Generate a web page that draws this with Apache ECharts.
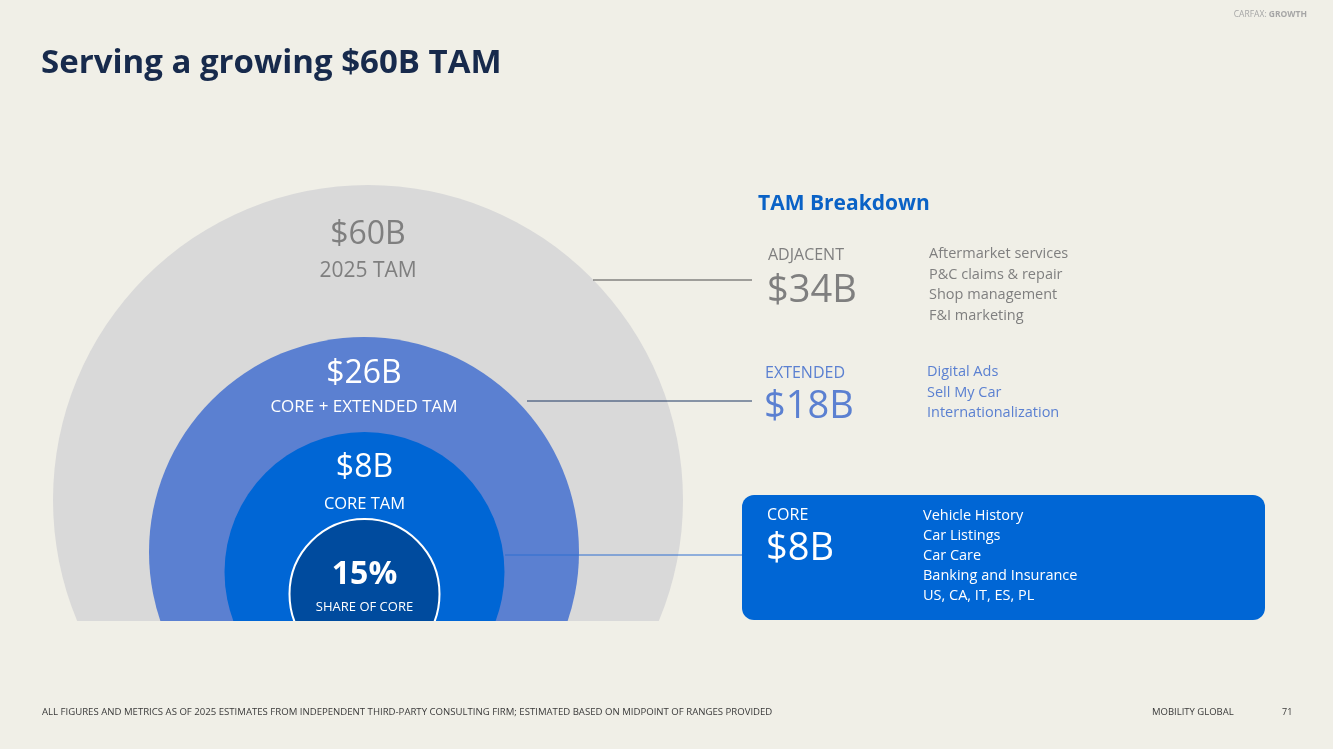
<!DOCTYPE html>
<html>
<head>
<meta charset="utf-8">
<script src="https://cdn.jsdelivr.net/npm/echarts@6/dist/echarts.min.js"></script>
<style>
  html, body { margin: 0; padding: 0; background: #f0efe7; }
  #chart { width: 1333px; height: 749px; }
</style>
</head>
<body>
<div id="chart"></div>
<script>
// TAM rings, $B
var ringValues = [60, 26, 8];
var ringLabels = ['2025 TAM', 'CORE + EXTENDED TAM', 'CORE TAM'];
var shareOfCore = 15; // %
var shareLabel = 'SHARE OF CORE';

// breakdown on the right
var segmentNames = ['ADJACENT', 'EXTENDED', 'CORE'];
var segmentValues = [34, 18, 8];
var segmentItems = [
  ['Aftermarket services', 'P&C claims & repair', 'Shop management', 'F&I marketing'],
  ['Digital Ads', 'Sell My Car', 'Internationalization'],
  ['Vehicle History', 'Car Listings', 'Car Care', 'Banking and Insurance', 'US, CA, IT, ES, PL']
];

// layout (pixel units of the hidden axes)
var FONT = '"Open Sans", sans-serif';
var ringCx = [368, 364, 364.5, 364.5];
var ringCy = [500, 552, 572, 594];
var ringR = [315, 215, 140, 75];
var ringFill = ['#d9d9d9', '#5b80d1', '#0066d5', '#004b9e'];
var ringValueY = [235, 374, 468, 575];
var ringLabelY = [271, 407, 504, 607];
var ringTextColor = ['#7f7f7f', '#ffffff', '#ffffff', '#ffffff'];
var ringLabelSize = [21, 17, 16.5, 13];

var myChart = echarts.init(document.getElementById('chart'));

var ringData = ringValues.map(function (v, i) {
  return { value: [i, v], label: ringLabels[i] };
});
ringData.push({ value: [3, shareOfCore], label: shareLabel });

function renderRing(params, api) {
  var i = params.dataIndex;
  var c = api.coord([ringCx[i], ringCy[i]]);
  var r = api.size([ringR[i], 0])[0];
  var v = api.value(1);
  var txt = i < 3 ? '$' + v + 'B' : v + '%';
  return {
    type: 'group',
    children: [{
      type: 'circle',
      shape: { cx: c[0], cy: c[1], r: r },
      style: {
        fill: ringFill[i],
        stroke: i == 3 ? '#ffffff' : null,
        lineWidth: i == 3 ? 2 : 0
      }
    }, {
      type: 'text',
      style: {
        text: txt, x: c[0], y: api.coord([0, ringValueY[i]])[1],
        fill: ringTextColor[i], font: (i == 3 ? 'bold ' : '') + '32px ' + FONT,
        align: 'center', verticalAlign: 'middle'
      }
    }, {
      type: 'text',
      style: {
        text: ringData[i].label, x: c[0], y: api.coord([0, ringLabelY[i]])[1],
        fill: ringTextColor[i], font: ringLabelSize[i] + 'px ' + FONT,
        align: 'center', verticalAlign: 'middle'
      }
    }]
  };
}

// right side text + connectors
var segColor = ['#7f7f7f', '#5b80d1', '#ffffff'];
var segX = [768, 765, 767];
var segNameY = [255, 373, 515];
var segValueY = [291, 407, 549];
var itemX = [929, 927, 923];
var itemY0 = [254, 372, 516];
var itemStep = [20.5, 20.5, 20];
var lineFrom = [[593, 280], [527, 401], [505, 555]];
var lineTo = [752, 752, 742];
var lineColor = ['#4d4d4d', '#1f3864', '#2f6fd0'];

var graphics = [];
graphics.push({
  type: 'rect', z: 1,
  shape: { x: 742, y: 495, width: 523, height: 125, r: 12 },
  style: { fill: '#0066d5' }
});
for (var s = 0; s < 3; s++) {
  graphics.push({
    type: 'line', z: 5,
    shape: { x1: lineFrom[s][0], y1: lineFrom[s][1], x2: lineTo[s], y2: lineFrom[s][1] },
    style: { stroke: lineColor[s], lineWidth: 1 }
  });
  graphics.push({
    type: 'text', z: 5,
    style: { text: segmentNames[s], x: segX[s], y: segNameY[s], fill: segColor[s],
      font: '16px ' + FONT, verticalAlign: 'middle' }
  });
  graphics.push({
    type: 'text', z: 5,
    style: { text: '$' + segmentValues[s] + 'B', x: segX[s] - 1, y: segValueY[s], fill: segColor[s],
      font: '38px ' + FONT, verticalAlign: 'middle' }
  });
  for (var k = 0; k < segmentItems[s].length; k++) {
    graphics.push({
      type: 'text', z: 5,
      style: { text: segmentItems[s][k], x: itemX[s], y: itemY0[s] + k * itemStep[s],
        fill: segColor[s], font: '14.5px ' + FONT, verticalAlign: 'middle' }
    });
  }
}
graphics.push({
  type: 'text', z: 5,
  style: { text: 'TAM Breakdown', x: 758, y: 204, fill: '#0a62c6',
    font: 'bold 21px ' + FONT, verticalAlign: 'middle' }
});
graphics.push({
  type: 'text', z: 5,
  style: { text: 'Serving a growing $60B TAM', x: 41, y: 64, fill: '#172a4c',
    font: 'bold 33px ' + FONT, verticalAlign: 'middle' }
});
graphics.push({
  type: 'text', z: 5,
  style: {
    text: '{a|CARFAX: }{b|GROWTH}', x: 1307, y: 15, align: 'right', verticalAlign: 'middle',
    rich: {
      a: { fill: '#a6a6a6', font: '8.5px ' + FONT },
      b: { fill: '#a6a6a6', font: 'bold 8.5px ' + FONT }
    }
  }
});
graphics.push({
  type: 'text', z: 5,
  style: { text: 'ALL FIGURES AND METRICS AS OF 2025 ESTIMATES FROM INDEPENDENT THIRD-PARTY CONSULTING FIRM; ESTIMATED BASED ON MIDPOINT OF RANGES PROVIDED',
    x: 42, y: 712, fill: '#3a3a3a', font: '9.6px ' + FONT, verticalAlign: 'middle' }
});
graphics.push({
  type: 'text', z: 5,
  style: { text: 'MOBILITY GLOBAL', x: 1152, y: 712, fill: '#3a3a3a', font: '9.5px ' + FONT, verticalAlign: 'middle' }
});
graphics.push({
  type: 'text', z: 5,
  style: { text: '71', x: 1282, y: 712, fill: '#3a3a3a', font: '9px ' + FONT, verticalAlign: 'middle' }
});

var option = {
  backgroundColor: '#f0efe7',
  animation: false,
  grid: { left: 0, top: 0, width: 1333, height: 621 },
  xAxis: { type: 'value', min: 0, max: 1333, show: false },
  yAxis: { type: 'value', min: 0, max: 621, inverse: true, show: false },
  series: [{
    type: 'custom',
    clip: true,
    renderItem: renderRing,
    data: ringData,
    z: 2
  }],
  graphic: graphics
};
myChart.setOption(option);
</script>
</body>
</html>
